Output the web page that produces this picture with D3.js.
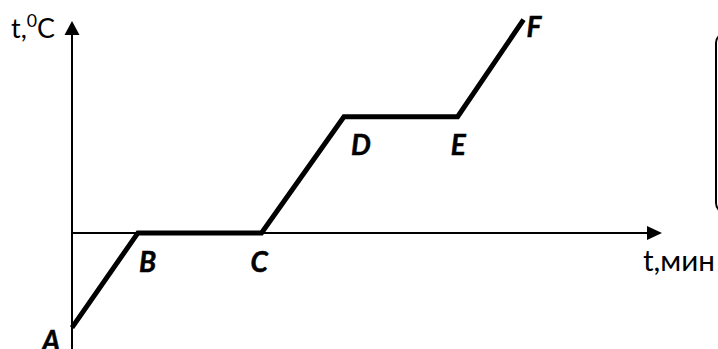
<!DOCTYPE html>
<html>
<head>
<meta charset="utf-8">
<script src="https://cdn.jsdelivr.net/npm/d3@7"></script>
<style>
  html, body { margin: 0; padding: 0; background: #fff; }
  svg { display: block; }
  .axisLabel { font-family: Lato, "Open Sans", sans-serif; font-size: 24px; fill: #000; }
  .pointLabel { font-family: Lato, "Open Sans", sans-serif; font-size: 28px; font-weight: bold; font-style: italic; fill: #000; stroke: #000; stroke-width: 0.5px; }
</style>
</head>
<body>
<div id="idChart"></div>
<script>
// heating curve: time (min) and temperature (°C) at the break points
var aPointNames = ["A", "B", "C", "D", "E", "F"];
var aTimes = [0, 4, 11.5, 16.5, 23.4, 27.4];
var aTemps = [-20, 0, 0, 24.5, 24.5, 45];
var sYLabel = "t,";
var sYUnit = "C";
var sXLabel = "t,мин";

var iWidth = 718;
var iHeight = 349;

var mySvg = d3.select("#idChart").append("svg")
	.attr("width", iWidth)
	.attr("height", iHeight);

var x = d3.scaleLinear().domain([0, 35.8]).range([72, 662]);
var y = d3.scaleLinear().domain([-24.5, 45]).range([349, 19.6]);

// axes
var iAxisX = x(0);
var iAxisY = y(0);
var iTopTip = y(44.7);
var iRightTip = x(35.8);

mySvg.append("line")
	.attr("x1", iAxisX).attr("y1", iHeight)
	.attr("x2", iAxisX).attr("y2", iTopTip + 12)
	.attr("stroke", "#000").attr("stroke-width", 2);
mySvg.append("path")
	.attr("d", "M" + iAxisX + "," + iTopTip + " L" + (iAxisX - 7.5) + "," + (iTopTip + 14) + " L" + (iAxisX + 7.5) + "," + (iTopTip + 14) + "Z")
	.attr("fill", "#000");

mySvg.append("line")
	.attr("x1", iAxisX).attr("y1", iAxisY)
	.attr("x2", iRightTip - 12).attr("y2", iAxisY)
	.attr("stroke", "#000").attr("stroke-width", 2);
mySvg.append("path")
	.attr("d", "M" + iRightTip + "," + iAxisY + " L" + (iRightTip - 15) + "," + (iAxisY - 7) + " L" + (iRightTip - 15) + "," + (iAxisY + 7) + "Z")
	.attr("fill", "#000");

// axis captions, sized so their widths match the picture
function fYCaption(fSize)
{
	mySvg.select("#idYCap").remove();
	var yCap = mySvg.append("text")
		.attr("id", "idYCap")
		.attr("class", "axisLabel")
		.style("font-size", fSize + "px")
		.attr("x", 11).attr("y", 38);
	yCap.append("tspan").text(sYLabel);
	yCap.append("tspan").attr("dy", -fSize * 0.42).style("font-size", (fSize * 0.66) + "px").text("0");
	yCap.append("tspan").attr("dy", fSize * 0.42).text(sYUnit);
	return yCap;
}
var fYSize = 24;
var fYWidth = fYCaption(fYSize).node().getBBox().width;
fYCaption(fYSize * 44 / fYWidth);

var xCap = mySvg.append("text")
	.attr("class", "axisLabel")
	.attr("x", 643).attr("y", 271)
	.text(sXLabel);
var fXWidth = xCap.node().getComputedTextLength();
xCap.style("font-size", (24 * 72 / fXWidth) + "px");

// the curve
var aPoints = aTimes.map(function(t, i) { return {name: aPointNames[i], t: t, temp: aTemps[i]}; });

var lineGen = d3.line()
	.x(function(d) { return x(d.t); })
	.y(function(d) { return y(d.temp); });

mySvg.append("path")
	.datum(aPoints)
	.attr("d", lineGen)
	.attr("fill", "none")
	.attr("stroke", "#000")
	.attr("stroke-width", 5)
	.attr("stroke-linejoin", "miter");

var oOffsets = {A: [-30, 23], B: [1, 39], C: [-11, 39], D: [7, 38], E: [-7, 38], F: [3, 17]};

mySvg.selectAll(".pointLabel")
	.data(aPoints)
	.enter().append("text")
	.attr("class", "pointLabel")
	.attr("x", function(d) { return x(d.t) + oOffsets[d.name][0]; })
	.attr("y", function(d) { return y(d.temp) + oOffsets[d.name][1]; })
	.text(function(d) { return d.name; });

// edge of the neighbouring frame
mySvg.append("rect")
	.attr("x", 716).attr("y", 33)
	.attr("width", 40).attr("height", 180)
	.attr("rx", 10)
	.attr("fill", "none")
	.attr("stroke", "#000")
	.attr("stroke-width", 2);
</script>
</body>
</html>
